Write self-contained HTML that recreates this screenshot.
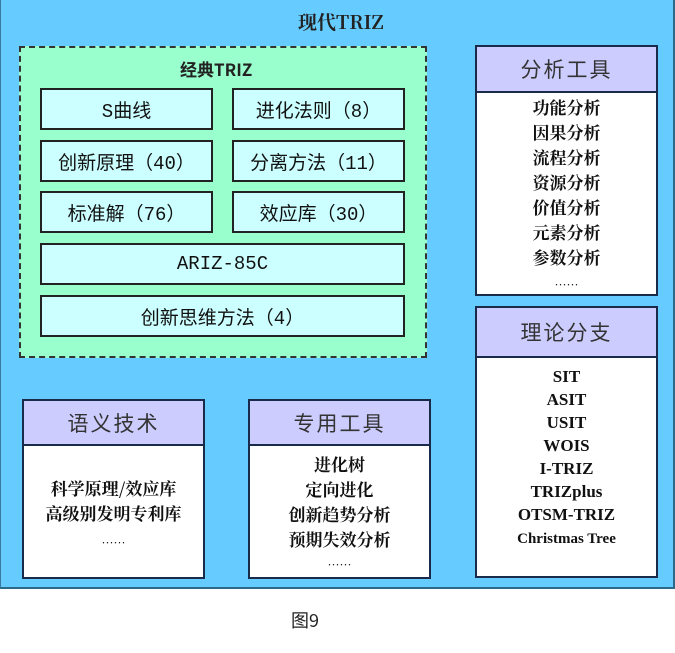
<!DOCTYPE html>
<html><head><meta charset="utf-8"><style>
body{margin:0;width:675px;height:653px;background:#fff;position:relative;overflow:hidden;font-family:"Liberation Serif","Noto Serif CJK SC",serif}
div{position:absolute;box-sizing:border-box}
.outer{left:0;top:0;width:675px;height:589px;background:#66ccff;border:2px solid #2a6a8a;border-top:none;border-left:1px solid #3a7aa0}
.dash{left:19px;top:46px;width:408px;height:312px;background:#99ffcc;border:2px dashed #333}
.b{background:#ccffff;border:2px solid #222;font-family:"Liberation Mono","Noto Sans CJK SC",monospace;font-size:19px;color:#111;display:flex;align-items:center;justify-content:center}
.panel{background:#fff;border:2px solid #1a2a4a}
.hd{left:0;top:0;right:0;background:#ccccff;border-bottom:2px solid #1a2a4a;font-family:"Noto Sans CJK SC",sans-serif;font-size:21px;color:#333;display:flex;align-items:center;justify-content:center;letter-spacing:2px}
.it{left:0;right:0;text-align:center;font-family:"Noto Serif CJK SC",serif;font-weight:bold;font-size:17px;color:#111;line-height:25px}
.en{font-family:"Liberation Serif",serif;font-weight:bold;font-size:17px;line-height:23px}
</style></head><body>
<div class="outer"></div>
<div style="left:298px;top:8px;font-family:'Noto Serif CJK SC',serif;font-weight:bold;font-size:19px;color:#222">现代TRIZ</div>
<div class="dash"></div>
<div style="left:180px;top:56px;font-family:'Noto Sans CJK SC',sans-serif;font-weight:bold;font-size:17px;color:#222">经典TRIZ</div>
<div class="b" style="left:40px;top:88px;width:173px;height:42px">S曲线</div>
<div class="b" style="left:232px;top:88px;width:173px;height:42px">进化法则（8）</div>
<div class="b" style="left:40px;top:140px;width:173px;height:42px">创新原理（40）</div>
<div class="b" style="left:232px;top:140px;width:173px;height:42px">分离方法（11）</div>
<div class="b" style="left:40px;top:191px;width:173px;height:42px">标准解（76）</div>
<div class="b" style="left:232px;top:191px;width:173px;height:42px">效应库（30）</div>
<div class="b" style="left:40px;top:243px;width:365px;height:42px">ARIZ-85C</div>
<div class="b" style="left:40px;top:295px;width:365px;height:42px">创新思维方法（4）</div>

<div class="panel" style="left:475px;top:45px;width:183px;height:251px">
<div class="hd" style="height:46px">分析工具</div>
<div class="it" style="top:47px">功能分析<br>因果分析<br>流程分析<br>资源分析<br>价值分析<br>元素分析<br>参数分析</div>
<div class="it" style="top:225px;font-size:12px">……</div>
</div>

<div class="panel" style="left:475px;top:306px;width:183px;height:272px">
<div class="hd" style="height:50px">理论分支</div>
<div class="it en" style="top:57px">SIT<br>ASIT<br>USIT<br>WOIS<br>I-TRIZ<br>TRIZplus<br>OTSM-TRIZ<br><span style="font-size:15px">Christmas Tree</span></div>
</div>

<div class="panel" style="left:22px;top:399px;width:183px;height:180px">
<div class="hd" style="height:45px">语义技术</div>
<div class="it" style="top:74px">科学原理/效应库<br>高级别发明专利库</div>
<div class="it" style="top:129px;font-size:12px">……</div>
</div>

<div class="panel" style="left:248px;top:399px;width:183px;height:180px">
<div class="hd" style="height:45px">专用工具</div>
<div class="it" style="top:50px">进化树<br>定向进化<br>创新趋势分析<br>预期失效分析</div>
<div class="it" style="top:151px;font-size:12px">……</div>
</div>

<div style="left:291px;top:607px;font-family:'Noto Sans CJK SC',sans-serif;font-size:18px;color:#222">图9</div>
</body></html>
